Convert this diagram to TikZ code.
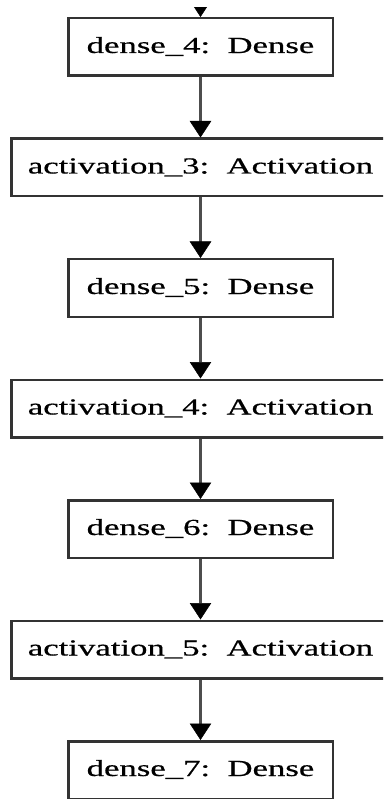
\documentclass[tikz,border=0pt]{standalone}
\usepackage{fontspec}
\setmainfont{Liberation Serif}
\newfontfamily\labelfont[FakeBold=0.5]{Liberation Serif}
\usetikzlibrary{arrows.meta}
\definecolor{boxline}{HTML}{333333}
\definecolor{connline}{HTML}{4D4D4D}
\newcommand{\lbl}[1]{\scalebox{1.51}[1]{#1}}
\tikzset{
  layer/.style={draw=boxline, line width=2.5pt, rectangle, inner sep=0pt,
    text height=34.75pt, text depth=22.75pt, align=center,
    font=\labelfont\fontsize{23}{27}\selectfont},
  densebox/.style={layer, text width=264.5pt},
  actbox/.style={layer, text width=378pt},
  conn/.style={draw=connline, line width=3pt,
    -{Triangle[length=16.5pt,width=21.5pt,color=black,fill=black,line width=0.5pt]}}
}
\begin{document}
\begin{tikzpicture}[x=1pt,y=-1pt]
\useasboundingbox (0,0) rectangle (383,799);
\begin{scope}
\clip (0,8) rectangle (383,799);
\node[densebox] (d4) at (200.5,47) {\lbl{dense\_4: Dense}};
\node[actbox]   (a3) at (200.5,167.5) {\lbl{activation\_3: Activation}};
\node[densebox] (d5) at (200.5,288) {\lbl{dense\_5: Dense}};
\node[actbox]   (a4) at (200.5,408.5) {\lbl{activation\_4: Activation}};
\node[densebox] (d6) at (200.5,529) {\lbl{dense\_6: Dense}};
\node[actbox]   (a5) at (200.5,649.5) {\lbl{activation\_5: Activation}};
\node[densebox] (d7) at (200.5,770) {\lbl{dense\_7: Dense}};
\coordinate (in) at (200.5,-40);
\draw[conn] (in) -- (d4);
\draw[conn] (d4) -- (a3);
\draw[conn] (a3) -- (d5);
\draw[conn] (d5) -- (a4);
\draw[conn] (a4) -- (d6);
\draw[conn] (d6) -- (a5);
\draw[conn] (a5) -- (d7);
\end{scope}
\end{tikzpicture}
\end{document}
